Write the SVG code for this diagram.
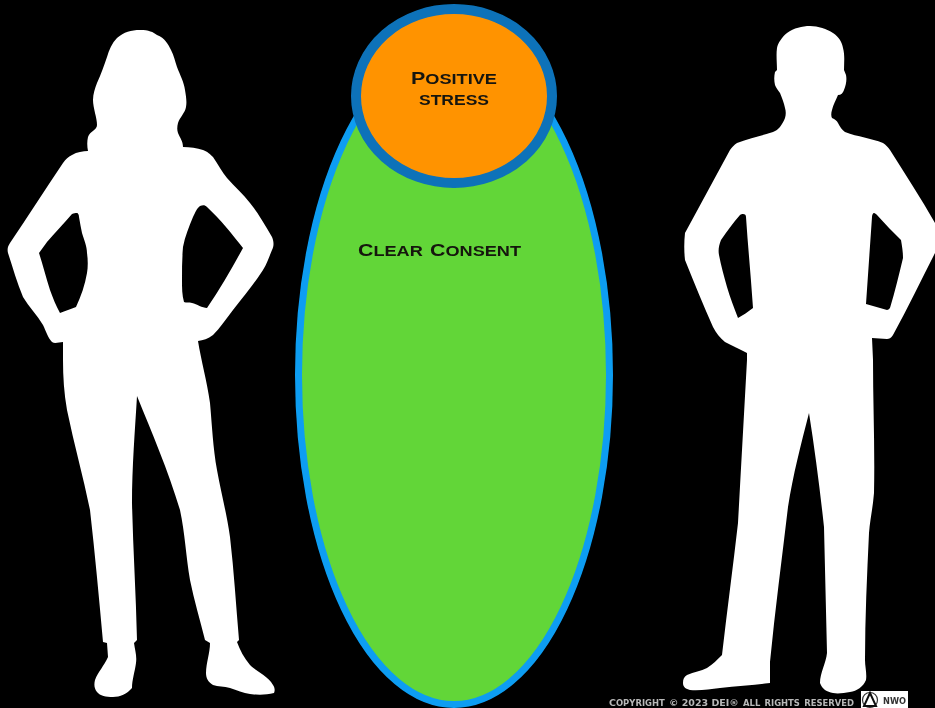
<svg xmlns="http://www.w3.org/2000/svg" width="935" height="708" viewBox="0 0 935 708">
<defs>
<style>
.sil{fill:#fff;fill-rule:evenodd}
.t{font-family:"Liberation Sans",Arial,sans-serif;font-weight:700;font-variant:small-caps;fill:#14140f;font-size:20px}
.c{font-size:16.5px}
.f{font-family:"DejaVu Sans",sans-serif;font-weight:700;font-variant:small-caps;fill:#b8b8b8;font-size:11.500px}
.d{font-size:9px}
</style>
<filter id="soft" x="-5%" y="-5%" width="110%" height="110%"><feGaussianBlur stdDeviation="0.6"/></filter>
</defs>
<rect width="935" height="708" fill="#000"/>
<g filter="url(#soft)">
<g id="woman">
<path class="sil" d="M140 30C149 30 153 32 157 35C165 38 168 44 171 50C174 56 175 61 177 67C180 75 184 82 185 90C186 96 187 102 186 107C185 113 180 117 178 123C177 127 177 130 178 133C180 138 183 141 183 147C190 147 197 148 203 150C208 152 210 154 213 157C218 164 222 172 227 178C235 187 243 194 250 203C258 213 265 225 272 237C274 242 274 246 272 250C269 257 267 264 263 270C254 284 243 297 233 310C226 319 220 328 213 335C208 339 203 340 198 341C201 360 207 381 210 403C212 425 213 448 217 470C221 492 227 515 230 537C234 571 236 606 239 640L237 642C240 650 244 658 250 665C257 672 268 676 273 685C275 688 275 691 274 693C266 695 258 695 250 694C243 693 237 690 230 688C224 686 218 687 213 685C208 682 206 678 206 673C206 663 210 653 210 643L205 640C200 620 194 600 190 580C186 557 185 533 180 510C168 470 152 433 137 396C135 430 132 467 132 503C133 548 136 594 137 640L134 643C135 650 137 656 136 663C135 671 132 680 132 688C127 694 120 697 113 697C106 697 100 696 97 692C94 688 94 684 95 680C98 672 104 666 108 657L107 643L103 642C99 598 95 554 90 510C83 476 74 444 67 410C64 393 63 377 63 360L63 342C59 342 55 344 52 342C48 338 46 331 43 325C37 315 29 307 23 297C17 283 13 268 8 253C7 249 8 246 10 243C28 216 45 190 63 163C66 159 68 157 72 155C77 152 83 151 88 151C87 146 87 141 88 137C90 131 97 130 97 125C97 118 93 108 93 100C93 94 95 88 97 83C101 74 104 66 107 57C109 50 112 43 117 38C124 32 131 30 140 30Z
M200 206C203 205 205 205 207 207C220 219 232 234 243 248C232 268 220 289 207 308C202 308 197 304 192 303C189 302 186 303 184 302C182 295 182 288 182 280C182 269 182 258 183 247C185 236 189 227 193 217C195 213 197 208 200 206Z
M77 213C78 213 79 215 79 217C80 223 81 228 82 233C84 240 87 246 87 253C88 260 88 267 87 273C85 285 81 296 76 307C71 309 65 311 60 313C56 306 53 298 50 290C46 278 43 265 39 253L47 242C55 233 64 223 72 214C74 213 75 213 77 213Z"/>
</g>
<g id="man">
<path class="sil" d="M810 26C818 26 827 29 833 33C839 37 842 42 843 48C845 55 844 63 844 70L846 75C847 80 846 85 844 90C843 93 841 95 838 95C836 100 833 105 832 110C831 113 831 116 832 118C835 119 837 121 838 123C840 127 842 130 845 132C858 137 871 138 883 143C886 145 888 147 890 150C905 174 921 198 935 223L935 253C921 280 908 308 893 335C891 338 889 339 887 339L872 338L873 360C873 404 875 449 874 493C873 507 870 520 869 533C867 575 865 618 865 660C865 667 867 673 866 680C863 687 857 691 850 692C844 693 838 694 833 693C827 692 822 689 820 683C820 673 826 663 827 653C826 611 825 569 824 527C820 490 815 451 809 413C801 444 793 475 788 507C782 558 775 610 770 662L770 683C754 685 737 686 720 688C710 689 700 691 690 690C686 689 683 687 683 683C683 679 684 677 687 675C694 672 701 671 707 668C713 664 717 660 722 655C727 611 733 567 738 523C741 469 744 414 747 360L747 353C740 349 732 346 725 342C720 338 716 333 713 327C703 305 694 282 685 260C684 251 684 242 685 233C700 205 715 178 730 150C732 147 734 145 737 143C749 138 761 136 773 132C776 131 778 129 780 127C782 124 784 121 785 118C786 115 786 111 785 108C784 103 782 98 780 93C778 90 776 88 775 85C774 81 774 76 775 72L777 70C777 63 776 55 777 48C778 43 782 37 787 33C794 28 802 26 810 26Z
M743 214C745 214 746 215 746 217C748 247 751 278 753 308C748 312 743 315 738 318C734 308 730 297 727 287C724 276 721 266 719 255C718 250 719 245 721 240C727 231 733 223 740 215C741 214 742 214 743 214Z
M874 213C875 213 876 214 877 215C885 224 893 232 901 240C902 246 903 252 903 258C899 275 895 291 890 308C889 309 888 310 887 310C880 308 873 306 866 304C868 275 870 246 872 217C872 215 873 213 874 213Z"/>
</g>
<g id="clear-consent">
<ellipse cx="454" cy="375" rx="155.500" ry="329.500" fill="#62d637" stroke="#0d9df2" stroke-width="7"/>
<text class="t" x="358" y="256" textLength="163" lengthAdjust="spacingAndGlyphs"><tspan class="c">C</tspan>lear <tspan class="c">C</tspan>onsent</text>
</g>
<g id="positive-stress">
<ellipse cx="454" cy="96" rx="98" ry="87" fill="#ff9305" stroke="#0b72b9" stroke-width="10"/>
<text class="t" x="411" y="84" textLength="86" lengthAdjust="spacingAndGlyphs"><tspan class="c">P</tspan>ositive</text>
<text class="t" x="419" y="105" textLength="70" lengthAdjust="spacingAndGlyphs">stress</text>
</g>
<g id="footer">
<text class="f" x="609" y="706" textLength="245" lengthAdjust="spacingAndGlyphs"><tspan class="d">C</tspan>opyright <tspan class="d">© 2023 DEI®</tspan> all rights reserved</text>
<rect x="861" y="691" width="47" height="17" fill="#fff"/>
<circle cx="870" cy="700" r="7.500" fill="none" stroke="#333" stroke-width="1.200"/>
<path d="M870 693L864 706H876Z" fill="none" stroke="#111" stroke-width="2"/>
<text x="883" y="704" font-family="DejaVu Sans,sans-serif" font-weight="700" font-size="8" fill="#333" textLength="23" lengthAdjust="spacingAndGlyphs">NWO</text>
</g>
</g>
</svg>
